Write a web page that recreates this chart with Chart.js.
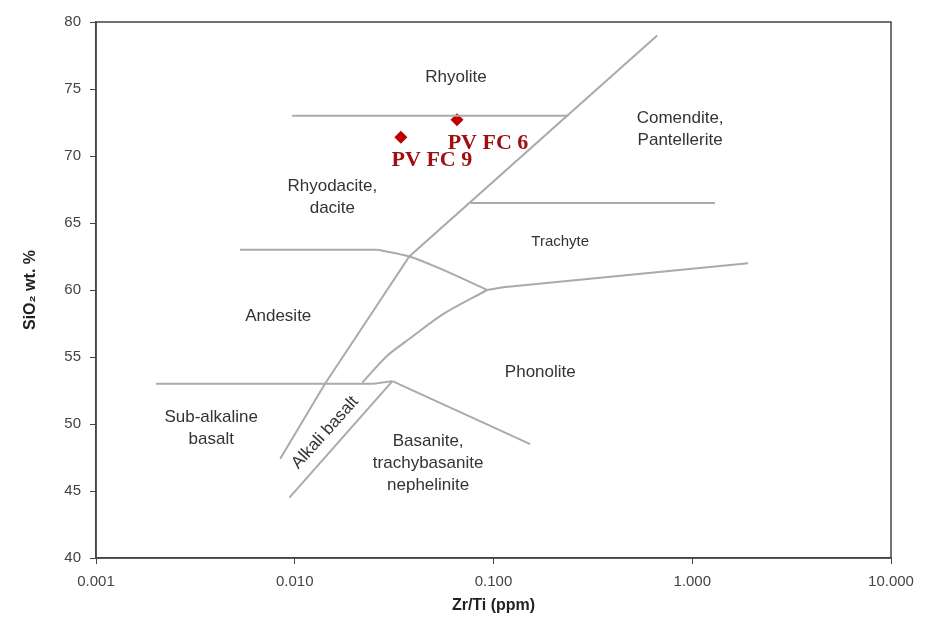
<!DOCTYPE html>
<html>
<head>
<meta charset="utf-8">
<script src="https://cdn.jsdelivr.net/npm/chart.js@4.4.1/dist/chart.umd.min.js"></script>
<style>
  html, body { margin: 0; padding: 0; background: #fff; }
  #wrap { width: 925px; height: 617px; }
</style>
</head>
<body>
<div id="wrap"><canvas id="myChart"></canvas></div>
<script>
// field boundaries, [Zr/Ti, SiO2]
const rhyoliteLine = [[0.0097, 73], [0.238, 73]];
const mainDiagonal = [[0.0142, 53], [0.0377, 62.5], [0.666, 79]];
const trachyteTop = [[0.0767, 66.5], [1.30, 66.5]];
const andesiteFlat = [[0.0053, 63], [0.026, 63]];
const andesiteCurve = [[0.026, 63], [0.0377, 62.5], [0.0558, 61.5], [0.093, 60]];
const trachyteBottom = [[0.093, 60], [0.112, 60.2], [1.91, 62]];
const phonoliteLower = [[0.0219, 53.1], [0.0292, 55.1], [0.0381, 56.4], [0.0558, 58.2], [0.093, 60]];
const basaltLine = [[0.002, 53], [0.025, 53], [0.031, 53.2]];
const basaniteLine = [[0.031, 53.2], [0.153, 48.5]];
const alkaliLower = [[0.031, 53.2], [0.0094, 44.5]];
const alkaliUpper = [[0.0142, 53], [0.00845, 47.4]];

// samples
const sampleNames = ['PV FC 9', 'PV FC 6'];
const sampleZrTi = [0.0342, 0.0655];
const sampleSiO2 = [71.4, 72.7];

const xTicks = [0.001, 0.01, 0.1, 1, 10];
const yTicks = [40, 45, 50, 55, 60, 65, 70, 75, 80];

// field names
const fieldNames = [
  ['Rhyolite'], ['Comendite,', 'Pantellerite'], ['Rhyodacite,', 'dacite'], ['Trachyte'],
  ['Andesite'], ['Phonolite'], ['Sub-alkaline', 'basalt'], ['Alkali basalt'],
  ['Basanite,', 'trachybasanite', 'nephelinite']
];
const fieldX = [0.0648, 0.869, 0.01546, 0.2165, 0.00826, 0.172, 0.0038, 0.01423, 0.0469];
const fieldY = [75.9, 72.0, 66.9, 63.6, 58.0, 53.84, 49.65, 49.36, 47.1];

const toXY = arr => arr.map(p => ({x: p[0], y: p[1]}));
const GRAY = '#aaaaaa';

function boundary(pts, tension) {
  return {
    type: 'line', data: toXY(pts), showLine: true, borderColor: GRAY, borderWidth: 2,
    pointRadius: 0, fill: false, tension: tension || 0
  };
}

const fieldText = {
  id: 'fieldText',
  afterDatasetsDraw(chart) {
    const {ctx, scales: {x, y}} = chart;
    ctx.save();
    ctx.fillStyle = '#333';
    ctx.textAlign = 'center';
    ctx.textBaseline = 'middle';
    fieldNames.forEach((lines, i) => {
      const px = x.getPixelForValue(fieldX[i]);
      const py = y.getPixelForValue(fieldY[i]);
      ctx.save();
      ctx.translate(px, py);
      if (lines[0] === 'Alkali basalt') ctx.rotate(-48 * Math.PI / 180);
      ctx.font = (lines[0] === 'Trachyte' ? '15px' : '17px') + ' "Liberation Sans", Arial, sans-serif';
      const h = 22;
      lines.forEach((t, j) => ctx.fillText(t, 0, (j - (lines.length - 1) / 2) * h));
      ctx.restore();
    });
    // sample labels
    ctx.fillStyle = '#a01010';
    ctx.font = 'bold 22px "Liberation Serif", "Times New Roman", serif';
    sampleNames.forEach((n, i) => {
      const px = x.getPixelForValue(sampleZrTi[i]);
      const py = y.getPixelForValue(sampleSiO2[i]);
      ctx.fillText(n, px + 31, py + 23);
    });
    // frame
    const a = chart.chartArea;
    ctx.strokeStyle = '#444';
    ctx.lineWidth = 1.5;
    ctx.strokeRect(a.left, a.top, a.right - a.left, a.bottom - a.top);
    ctx.restore();
  }
};

const ctx = document.getElementById('myChart');

new Chart(ctx, {
  type: 'scatter',
  data: {
    datasets: [
      boundary(rhyoliteLine), boundary(mainDiagonal), boundary(trachyteTop),
      boundary(andesiteFlat), boundary(andesiteCurve, 0.3), boundary(trachyteBottom),
      boundary(phonoliteLower, 0.3),
      boundary(basaltLine), boundary(basaniteLine), boundary(alkaliLower), boundary(alkaliUpper),
      {
        data: sampleZrTi.map((v, i) => ({x: v, y: sampleSiO2[i]})),
        pointStyle: 'rectRot', pointRadius: 6.5, pointHoverRadius: 6.5,
        backgroundColor: '#c00000', borderColor: '#c00000', borderWidth: 0
      }
    ]
  },
  options: {
    responsive: true,
    maintainAspectRatio: false,
    animation: false,
    layout: { padding: { top: 22, right: 34, left: 0, bottom: 0 } },
    plugins: { legend: { display: false }, tooltip: { enabled: false } },
    scales: {
      x: {
        type: 'logarithmic', min: 0.001, max: 10,
        afterBuildTicks: s => { s.ticks = xTicks.map(v => ({value: v})); },
        afterFit: s => { s.height = 59; },
        ticks: {
          callback: v => Number(v).toFixed(3),
          color: '#444', font: { family: '"Liberation Sans", Arial, sans-serif', size: 15 },
          padding: 9, maxRotation: 0, autoSkip: false
        },
        grid: { drawOnChartArea: false, drawTicks: true, tickLength: 6, color: '#444' },
        border: { display: true, color: '#444', width: 1.5 },
        title: {
          display: true, text: 'Zr/Ti (ppm)', color: '#222',
          font: { family: '"Liberation Sans", Arial, sans-serif', size: 16, weight: 'bold' },
          padding: { top: 2, bottom: 2 }
        }
      },
      y: {
        type: 'linear', min: 40, max: 80,
        afterBuildTicks: s => { s.ticks = yTicks.map(v => ({value: v})); },
        afterFit: s => { s.width = 96; },
        ticks: {
          color: '#444', font: { family: '"Liberation Sans", Arial, sans-serif', size: 15 },
          padding: 9
        },
        grid: { drawOnChartArea: false, drawTicks: true, tickLength: 6, color: '#444' },
        border: { display: true, color: '#444', width: 1.5 },
        title: {
          display: true, text: 'SiO₂ wt. %', color: '#222',
          font: { family: '"Liberation Sans", Arial, sans-serif', size: 16, weight: 'bold' },
          padding: { top: 21, bottom: 0 }
        }
      }
    }
  },
  plugins: [fieldText]
});
</script>
</body>
</html>
